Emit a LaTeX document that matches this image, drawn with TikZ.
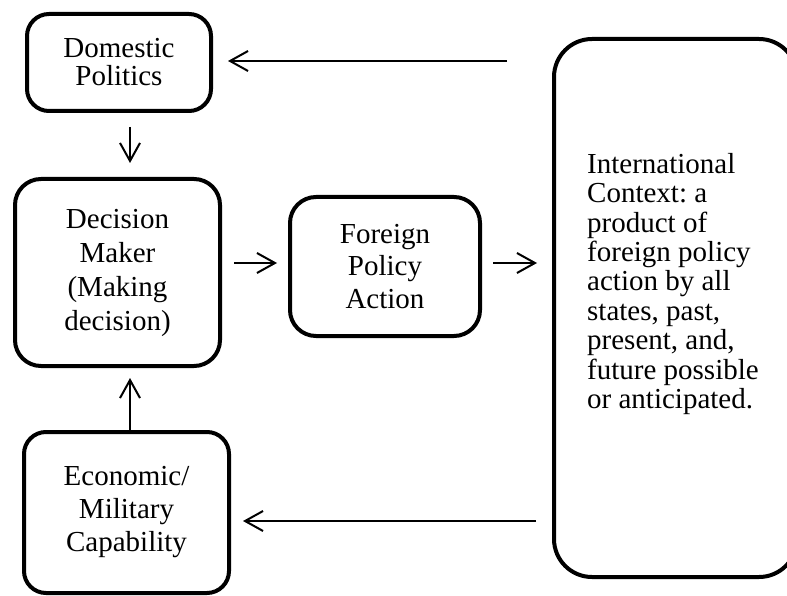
\documentclass[tikz,border=0pt]{standalone}
\usepackage{fontspec}
\setmainfont{Liberation Serif}
\usetikzlibrary{arrows.meta}
\begin{document}
\frenchspacing
\begin{tikzpicture}[x=1pt,y=-1pt,
  box/.style={draw, line width=4pt, rounded corners=22pt, align=center, inner sep=0pt},
  arr/.style={line width=2pt, -{Straight Barb[length=18pt,width=20pt]}}]
\useasboundingbox (0,0) rectangle (787,596);
\node[box, minimum width=184pt, minimum height=97pt, font=\fontsize{29}{28}\selectfont] (dom) at (119,62.5) {Domestic\\Politics};
\node[box, minimum width=205pt, minimum height=187pt, rounded corners=26pt, font=\fontsize{29}{34}\selectfont] (dec) at (117.5,272.5) {Decision\\Maker\\(Making\\decision)};
\node[box, minimum width=190pt, minimum height=139pt, rounded corners=26pt, font=\fontsize{29}{32.5}\selectfont] (fpa) at (385,266.5) {Foreign\\Policy\\Action};
\node[box, minimum width=205pt, minimum height=161pt, font=\fontsize{29}{33}\selectfont] (eco) at (126.5,512.5) {Economic/\\Military\\Capability};
\begin{scope}
\clip (0,0) rectangle (787,596);
\node[box, minimum width=243pt, minimum height=538pt, rounded corners=38pt] (intl) at (675.5,308) {};
\end{scope}
\node[anchor=north west, align=left, inner sep=0pt, font=\fontsize{29}{29.4}\selectfont] (itext) at (587,153)
  {International\\Context: a\\product of\\foreign policy\\action by all\\states, past,\\present, and,\\future possible\\or anticipated.};
\coordinate (ax) at (130,0);
\coordinate (ay) at (0,263);
\coordinate (ty) at (0,61);
\coordinate (by) at (0,521);
\draw[arr, shorten <=14pt, shorten >=14pt] (dom.south -| ax) -- (dec.north -| ax);
\draw[arr, shorten >=10pt] (eco.north -| ax) -- (dec.south -| ax);
\draw[arr, shorten <=12pt, shorten >=11pt] (dec.east |- ay) -- (fpa.west |- ay);
\draw[arr, shorten <=11pt, shorten >=15pt] (fpa.east |- ay) -- (intl.west |- ay);
\draw[arr, shorten <=45pt, shorten >=15pt] (intl.west |- ty) -- (dom.east |- ty);
\draw[arr, shorten <=16pt, shorten >=12pt] (intl.west |- by) -- (eco.east |- by);
\end{tikzpicture}
\end{document}
